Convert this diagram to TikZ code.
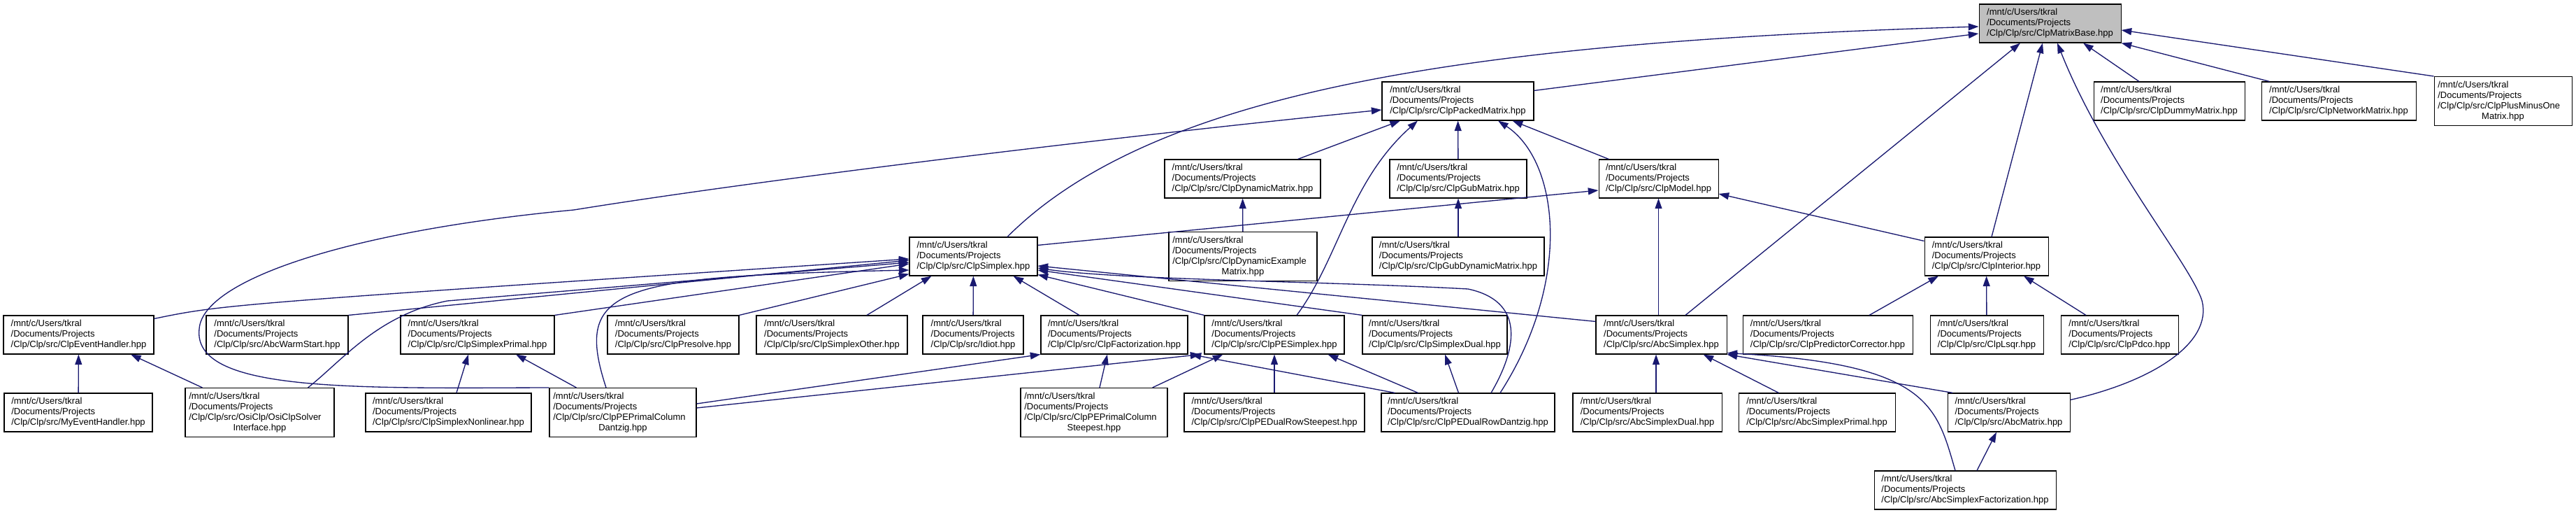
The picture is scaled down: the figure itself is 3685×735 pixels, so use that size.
\documentclass[tikz,border=0pt]{standalone}
\usepackage{fontspec}
\setmainfont{Liberation Sans}
\usetikzlibrary{arrows.meta,calc}

\definecolor{midnight}{RGB}{25,25,112}
\newcommand{\clppath}[1]{/mnt/c/Users/tkral\\/Documents/Projects\\/Clp/Clp/src/#1}
\newcommand{\clppathx}[2]{/mnt/c/Users/tkral\\/Documents/Projects\\/Clp/Clp/src/#1\\\hbox to\hsize{\hfil#2\hfil}}

\begin{document}
\begin{tikzpicture}[
    x=0.75pt, y=-0.75pt,
    font=\fontsize{9.75}{11.25}\selectfont,
    filebox/.style={
        draw=black,
        fill=white,
        line width=0.8pt,
        align=left,
        inner xsep=4pt,
        minimum width=#1,
        minimum height=41.25pt
    },
    fileboxtall/.style 2 args={
        filebox=#1,
        text width=#2,
        minimum height=52.5pt
    },
    incl/.style={draw=midnight, line width=1pt, -{Triangle[length=11pt,width=7.5pt]}}
]

\path[fill=white, use as bounding box] (0,0) rectangle (3685,735);

\node[filebox=152.25pt, fill=black!25] (base) at (2932.5,33.5) {\clppath{ClpMatrixBase.hpp}};

\node[filebox=162.75pt] (packed) at (2085.5,144.5) {\clppath{ClpPackedMatrix.hpp}};
\node[filebox=162pt] (dummy) at (3103,144.5) {\clppath{ClpDummyMatrix.hpp}};
\node[filebox=165.75pt] (network) at (3345.5,144.5) {\clppath{ClpNetworkMatrix.hpp}};
\node[fileboxtall={147.75pt}{139.75pt}] (plusminus) at (3580.5,144.5) {\clppathx{ClpPlusMinusOne}{Matrix.hpp}};

\node[filebox=167.25pt] (dynamic) at (1777.5,255.5) {\clppath{ClpDynamicMatrix.hpp}};
\node[filebox=147pt] (gub) at (2086,255.5) {\clppath{ClpGubMatrix.hpp}};
\node[filebox=128.25pt] (model) at (2372.5,255.5) {\clppath{ClpModel.hpp}};

\node[filebox=137.25pt] (simplex) at (1392.5,366.5) {\clppath{ClpSimplex.hpp}};
\node[fileboxtall={159pt}{151pt}] (dynexample) at (1778,366.5) {\clppathx{ClpDynamicExample}{Matrix.hpp}};
\node[filebox=184.5pt] (gubdyn) at (2086,366.5) {\clppath{ClpGubDynamicMatrix.hpp}};
\node[filebox=132.75pt] (interior) at (2841.5,366.5) {\clppath{ClpInterior.hpp}};

\node[filebox=161.25pt] (evhandler) at (112.5,478.5) {\clppath{ClpEventHandler.hpp}};
\node[filebox=152.25pt] (warmstart) at (396.5,478.5) {\clppath{AbcWarmStart.hpp}};
\node[filebox=165pt] (sprimal) at (683,478.5) {\clppath{ClpSimplexPrimal.hpp}};
\node[filebox=141pt] (presolve) at (963,478.5) {\clppath{ClpPresolve.hpp}};
\node[filebox=162pt] (sother) at (1190,478.5) {\clppath{ClpSimplexOther.hpp}};
\node[filebox=108pt] (idiot) at (1392,478.5) {\clppath{Idiot.hpp}};
\node[filebox=157.5pt] (factor) at (1594,478.5) {\clppath{ClpFactorization.hpp}};
\node[filebox=150pt] (pesimplex) at (1823,478.5) {\clppath{ClpPESimplex.hpp}};
\node[filebox=155.25pt] (sdual) at (2052.5,478.5) {\clppath{ClpSimplexDual.hpp}};
\node[filebox=140.25pt] (abcsimplex) at (2376.5,478.5) {\clppath{AbcSimplex.hpp}};
\node[filebox=182.25pt] (predcorr) at (2614.5,478.5) {\clppath{ClpPredictorCorrector.hpp}};
\node[filebox=121.5pt] (lsqr) at (2842,478.5) {\clppath{ClpLsqr.hpp}};
\node[filebox=126pt] (pdco) at (3032,478.5) {\clppath{ClpPdco.hpp}};

\node[filebox=159pt] (myevhandler) at (112,589.5) {\clppath{MyEventHandler.hpp}};
\node[fileboxtall={159.75pt}{151.75pt}] (osiclp) at (371.5,589.5) {\clppathx{OsiClp/OsiClpSolver}{Interface.hpp}};
\node[filebox=177.75pt] (snonlin) at (641.5,589.5) {\clppath{ClpSimplexNonlinear.hpp}};
\node[fileboxtall={157.5pt}{149.5pt}] (pecoldantzig) at (891,589.5) {\clppathx{ClpPEPrimalColumn}{Dantzig.hpp}};
\node[fileboxtall={157.5pt}{149.5pt}] (pecolsteep) at (1565,589.5) {\clppathx{ClpPEPrimalColumn}{Steepest.hpp}};
\node[filebox=193.5pt] (pedualsteep) at (1823,589.5) {\clppath{ClpPEDualRowSteepest.hpp}};
\node[filebox=186pt] (pedualdantzig) at (2100,589.5) {\clppath{ClpPEDualRowDantzig.hpp}};
\node[filebox=159.75pt] (abcdual) at (2356.5,589.5) {\clppath{AbcSimplexDual.hpp}};
\node[filebox=168pt] (abcprimal) at (2599,589.5) {\clppath{AbcSimplexPrimal.hpp}};
\node[filebox=131.25pt] (abcmatrix) at (2873.5,589.5) {\clppath{AbcMatrix.hpp}};

\node[filebox=195pt] (abcfactor) at (2811,700.5) {\clppath{AbcSimplexFactorization.hpp}};

\draw[incl] ($(packed.north east)+(0,13)$) -- ($(base.west)+(0,14.5)$);
\draw[incl] ($(simplex.north)+(48.5,0)$) .. controls (1650,130) and (2100,60) .. ($(base.west)+(0,4.5)$);
\draw[incl] ($(interior.north)+(7.5,0)$) -- ($(base.south)+(-10.5,0)$);
\draw[incl] ($(abcsimplex.north)+(34.5,0)$) -- ($(base.south)+(-42.5,0)$);
\draw[incl] ($(abcmatrix.north east)+(0,10)$) .. controls (3080,545) and (3165,490) .. (3150,430) .. controls (3135,380) and (3010,230) .. ($(base.south)+(10.5,0)$);
\draw[incl] ($(dummy.north)+(-43,0)$) -- ($(base.south)+(47.5,0)$);
\draw[incl] ($(network.north west)+(12,0)$) -- (base.south east);
\draw[incl] (plusminus.north west) -- ($(base.east)+(0,9.5)$);

\draw[incl] ($(dynamic.north east)+(-33,0)$) -- ($(packed.south)+(-82.5,0)$);
\draw[incl] ($(pesimplex.north)+(32,0)$) .. controls (1915,370) and (1930,260) .. ($(packed.south)+(-57.5,0)$);
\draw[incl] (gub) -- (packed);
\draw[incl] ($(pedualdantzig.north)+(46,0)$) .. controls (2250,400) and (2230,230) .. ($(packed.south)+(57.5,0)$);
\draw[incl] ($(model.north west)+(15,0)$) -- ($(packed.south east)+(-31,0)$);
\draw[incl] (pecoldantzig.north west) .. controls (500,555) and (275,560) .. (285,470) .. controls (290,400) and (500,330) .. (821,300) .. controls (1100,255) and (1600,195) .. ($(packed.west)+(0,12.5)$);

\draw[incl] ($(evhandler.north east)+(0,5)$) .. controls (320,435) .. ($(simplex.west)+(0,3.5)$);
\draw[incl] (warmstart.north east) -- ($(simplex.west)+(0,5.5)$);
\draw[incl] (sprimal.north east) -- ($(simplex.west)+(0,10.5)$);
\draw[incl] (presolve.north east) -- ($(simplex.south west)+(0,-3)$);
\draw[incl] ($(sother.north)+(50,0)$) -- ($(simplex.south west)+(32,0)$);
\draw[incl] (idiot) -- (simplex);
\draw[incl] ($(factor.north)+(-50,0)$) -- ($(simplex.south east)+(-35,0)$);
\draw[incl] (pesimplex.north west) -- ($(simplex.south east)+(0,-2)$);
\draw[incl] (sdual.north west) -- ($(simplex.east)+(0,19.5)$);
\draw[incl] ($(abcsimplex.north west)+(0,9)$) -- ($(simplex.east)+(0,13.5)$);
\draw[incl] ($(pedualdantzig.north)+(33,0)$) .. controls (2172,495) and (2180,430) .. (2100,413) .. controls (1900,402) and (1600,400) .. ($(simplex.east)+(0,16.5)$);
\draw[incl] ($(osiclp.north east)+(-38,0)$) .. controls (490,515) and (540,450) .. (640,430) -- ($(simplex.west)+(0,8.5)$);
\draw[incl] ($(pecoldantzig.north)+(-24,0)$) .. controls (820,410) and (880,395) .. ($(simplex.west)+(0,19.5)$);

\draw[incl] ($(pecoldantzig.north west)+(39,0)$) -- ($(sprimal.south)+(55,0)$);
\draw[incl] ($(snonlin.north)+(11.5,0)$) -- ($(sprimal.south)+(-13,0)$);
\draw[incl] (myevhandler) -- (evhandler);
\draw[incl] ($(osiclp.north west)+(25,0)$) -- ($(evhandler.south)+(74.5,0)$);

\draw[incl] ($(pecoldantzig.east)+(0,-12.5)$) -- (factor.south west);
\draw[incl] ($(pecoldantzig.east)+(0,-6.5)$) -- ($(pesimplex.south west)+(-5,0)$);
\draw[incl] ($(pecolsteep.north)+(8,0)$) -- ($(factor.south)+(-10,0)$);
\draw[incl] ($(pecolsteep.north east)+(-22,0)$) -- ($(pesimplex.south west)+(27,0)$);
\draw[incl] (pedualsteep) -- (pesimplex);
\draw[incl] ($(pedualdantzig.north west)+(53,0)$) -- ($(pesimplex.south east)+(-24,0)$);
\draw[incl] ($(pedualdantzig.north west)+(20,0)$) -- ($(factor.south east)+(4,0)$);
\draw[incl] ($(pedualdantzig.north west)+(111,0)$) -- ($(sdual.south)+(14.5,0)$);

\draw[incl] ($(simplex.north east)+(0,12)$) -- ($(model.west)+(0,16.5)$);
\draw[incl] ($(interior.north west)+(0,6)$) -- ($(model.east)+(0,21.5)$);
\draw[incl] (abcsimplex.north -| model.south) -- (model.south);

\draw[incl] ($(abcdual.north)+(12.5,0)$) -- ($(abcsimplex.south)+(-7.5,0)$);
\draw[incl] ($(abcprimal.north west)+(58,0)$) -- ($(abcsimplex.south east)+(-34,0)$);
\draw[incl] ($(abcmatrix.north west)+(8,0)$) -- (abcsimplex.south east);
\draw[incl] ($(abcfactor.north)+(-14,0)$) .. controls (2770,580) and (2760,520) .. ($(abcsimplex.south east)+(0,-2)$);
\draw[incl] ($(abcfactor.north)+(17,0)$) -- ($(abcmatrix.south)+(-17.5,0)$);

\draw[incl] ($(predcorr.north)+(59.5,0)$) -- ($(interior.south)+(-68.5,0)$);
\draw[incl] (lsqr) -- (interior);
\draw[incl] ($(pdco.north)+(-48,0)$) -- ($(interior.south)+(53.5,0)$);

\draw[incl] (dynexample) -- (dynamic);
\draw[incl] (gubdyn) -- (gub);

\end{tikzpicture}
\end{document}
